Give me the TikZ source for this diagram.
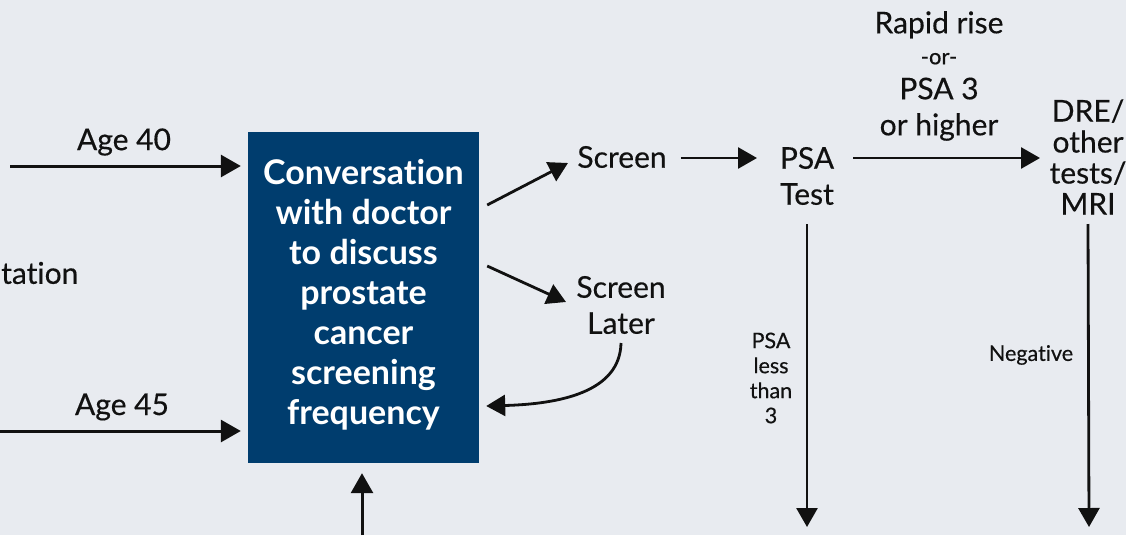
\documentclass[tikz,border=0pt]{standalone}
\usepackage{fontspec}
\setmainfont{Lato}[Ligatures={NoCommon},UprightFeatures={FakeBold=0.35}]
\usetikzlibrary{arrows.meta,calc}
\definecolor{bgc}{HTML}{E8EBF0}
\definecolor{boxc}{HTML}{003D6E}
\definecolor{inkc}{HTML}{111111}
\begin{document}
\begin{tikzpicture}[x=1pt,y=-1pt,
  txt/.style={inner sep=0pt,align=center,text=inkc,font=\fontsize{30}{36}\selectfont},
  small/.style={inner sep=0pt,align=center,text=inkc,font=\fontsize{21.5}{25}\selectfont},
  arr/.style={draw=inkc,line width=3pt,-{Triangle[length=20pt,width=22pt]}},
  arrs/.style={draw=inkc,line width=2.8pt,-{Triangle[length=19pt,width=21pt]}}]
\fill[bgc] (0,0) rectangle (1126,535);
\useasboundingbox (0,0) rectangle (1126,535);
% main box
\node[fill=boxc,minimum width=231pt,minimum height=331pt,inner sep=0pt] (box) at (363.5,297.5) {};
\node[text=white,align=center,inner sep=0pt,font=\bfseries\fontsize{34}{40}\selectfont] (boxt) at (363.5,295) {Conversation\\with doctor\\to discuss\\prostate\\cancer\\screening\\frequency};
% nodes
\node[txt] (scr) at (622,157) {Screen};
\node[txt] (scrl) at (621,305) {Screen\\Later};
\node[txt] (psa) at (807,176) {PSA\\Test};
\node[txt,font=\fontsize{30}{31}\selectfont] (dre) at (1088,157) {DRE/\\other\\tests/\\MRI};
% labels
\node[txt] (l40) at (124,142) {Age 40};
\node[txt] (l45) at (122,407) {Age 45};
\node[txt,anchor=west] (ltat) at (1,273) {tation};
\node[txt,font=\fontsize{30}{36}\selectfont] (lrap) at (939,76) {Rapid rise\\[-5pt]{\fontsize{22}{22}\selectfont -or-}\\[-1pt]PSA 3\\or higher};
\node[small] (lpsa) at (771,378) {PSA\\less\\than\\3};
\node[small] (lneg) at (1031,355) {Negative};
% free ends
\coordinate (a40) at (10,166);
\coordinate (a45) at (0,431);
\coordinate (bot) at (362,535);
\coordinate (psaend) at (807,527);
\coordinate (dreend) at (1089,527);
% connectors
\draw[arr,shorten >=7pt] (a40) -- (box.west |- a40);
\draw[arr,shorten >=7pt] (a45) -- (box.west |- a45);
\draw[arr,shorten >=10pt] (bot) -- (bot |- box.south);
\draw[arrs] ([xshift=8pt]box.east |- 0,205) -- (568,163);
\draw[arrs] ([xshift=8pt]box.east |- 0,266) -- (566,302);
\draw[arrs] ([xshift=14pt]scr.east |- 0,158) -- (757,158);
\draw[arrs] (853,158) -- (1040,158);
\draw[arrs] (psa.south |- 0,224) -- (psaend);
\draw[arrs] (dre.south |- 0,224) -- (dreend);
\draw[arrs] (scrl.south |- 0,343) .. controls (620,392) and (560,404) .. ([xshift=7pt]box.east |- 0,406);
\end{tikzpicture}
\end{document}
